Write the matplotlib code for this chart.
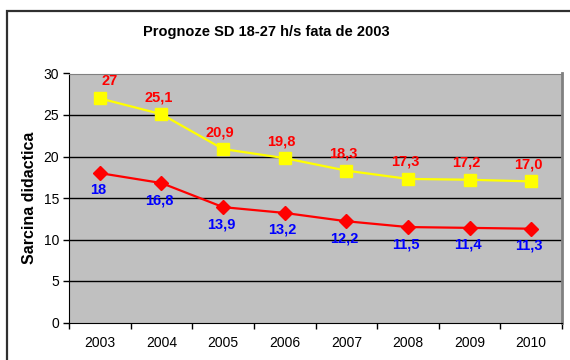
import matplotlib.pyplot as plt
from matplotlib.patches import Rectangle

plt.rcParams['font.family'] = ['Liberation Sans', 'DejaVu Sans']

years = ['2003', '2004', '2005', '2006', '2007', '2008', '2009', '2010']
sd_27 = [27, 25.1, 20.9, 19.8, 18.3, 17.3, 17.2, 17.0]
sd_27_labels = ['27', '25,1', '20,9', '19,8', '18,3', '17,3', '17,2', '17,0']
sd_18 = [18, 16.8, 13.9, 13.2, 12.2, 11.5, 11.4, 11.3]
sd_18_labels = ['18', '16,8', '13,9', '13,2', '12,2', '11,5', '11,4', '11,3']

fig = plt.figure(figsize=(5.7, 3.6), dpi=100)
ax = fig.add_axes([69 / 570, 1 - 322.5 / 360, 493 / 570, 249 / 360])

# outer chart border (runs off the right and bottom edge)
fig.patches.append(Rectangle((7 / 570, -0.2), 1.0, 1.2 - 11 / 360,
                             transform=fig.transFigure, fill=False,
                             edgecolor='#303030', linewidth=1.6))

ax.set_facecolor('#C0C0C0')
x = list(range(len(years)))

for y in [5, 10, 15, 20, 25]:
    ax.axhline(y, color='black', linewidth=1.0, zorder=1)

ax.plot(x, sd_27, color='#FFFF00', linewidth=1.6, marker='s', markersize=9,
        markerfacecolor='#FFFF00', markeredgecolor='#FFFF00', zorder=3)
ax.plot(x, sd_18, color='#FF0000', linewidth=1.6, marker='D', markersize=7,
        markerfacecolor='#FF0000', markeredgecolor='#FF0000', zorder=3)

for i, (v, lab) in enumerate(zip(sd_27, sd_27_labels)):
    dx = 10 if i == 0 else -3
    ax.annotate(lab, (i, v), xytext=(dx, 17), textcoords='offset pixels',
                ha='center', va='center', color='#FF0000',
                fontsize=10.5, fontweight='bold')
for i, (v, lab) in enumerate(zip(sd_18, sd_18_labels)):
    ax.annotate(lab, (i, v), xytext=(-2, -17), textcoords='offset pixels',
                ha='center', va='center', color='#0000FF',
                fontsize=10.5, fontweight='bold')

ax.set_xlim(-0.5, len(years) - 0.5)
ax.set_ylim(0, 30)
ax.set_yticks(range(0, 31, 5))
ax.set_xticks(x)
ax.set_xticklabels(years)
ax.set_xticks([i - 0.5 for i in range(len(years) + 1)], minor=True)
ax.tick_params(axis='x', which='major', length=0, pad=10, labelsize=10)
ax.tick_params(axis='x', which='minor', length=4, width=1, direction='out')
ax.tick_params(axis='y', length=4, width=1, direction='out', labelsize=10, pad=3)

ax.spines['left'].set_color('black')
ax.spines['bottom'].set_color('black')
ax.spines['top'].set_color('#808080')
ax.spines['right'].set_color('#808080')
ax.spines['right'].set_linewidth(2)

ax.set_ylabel('Sarcina didactica', fontsize=11.5, fontweight='bold', labelpad=5)
fig.text(266 / 570, 1 - 32 / 360, 'Prognoze SD 18-27 h/s fata de 2003',
         ha='center', va='center', fontsize=10.5, fontweight='bold')

fig.savefig('out.png', dpi=100)
